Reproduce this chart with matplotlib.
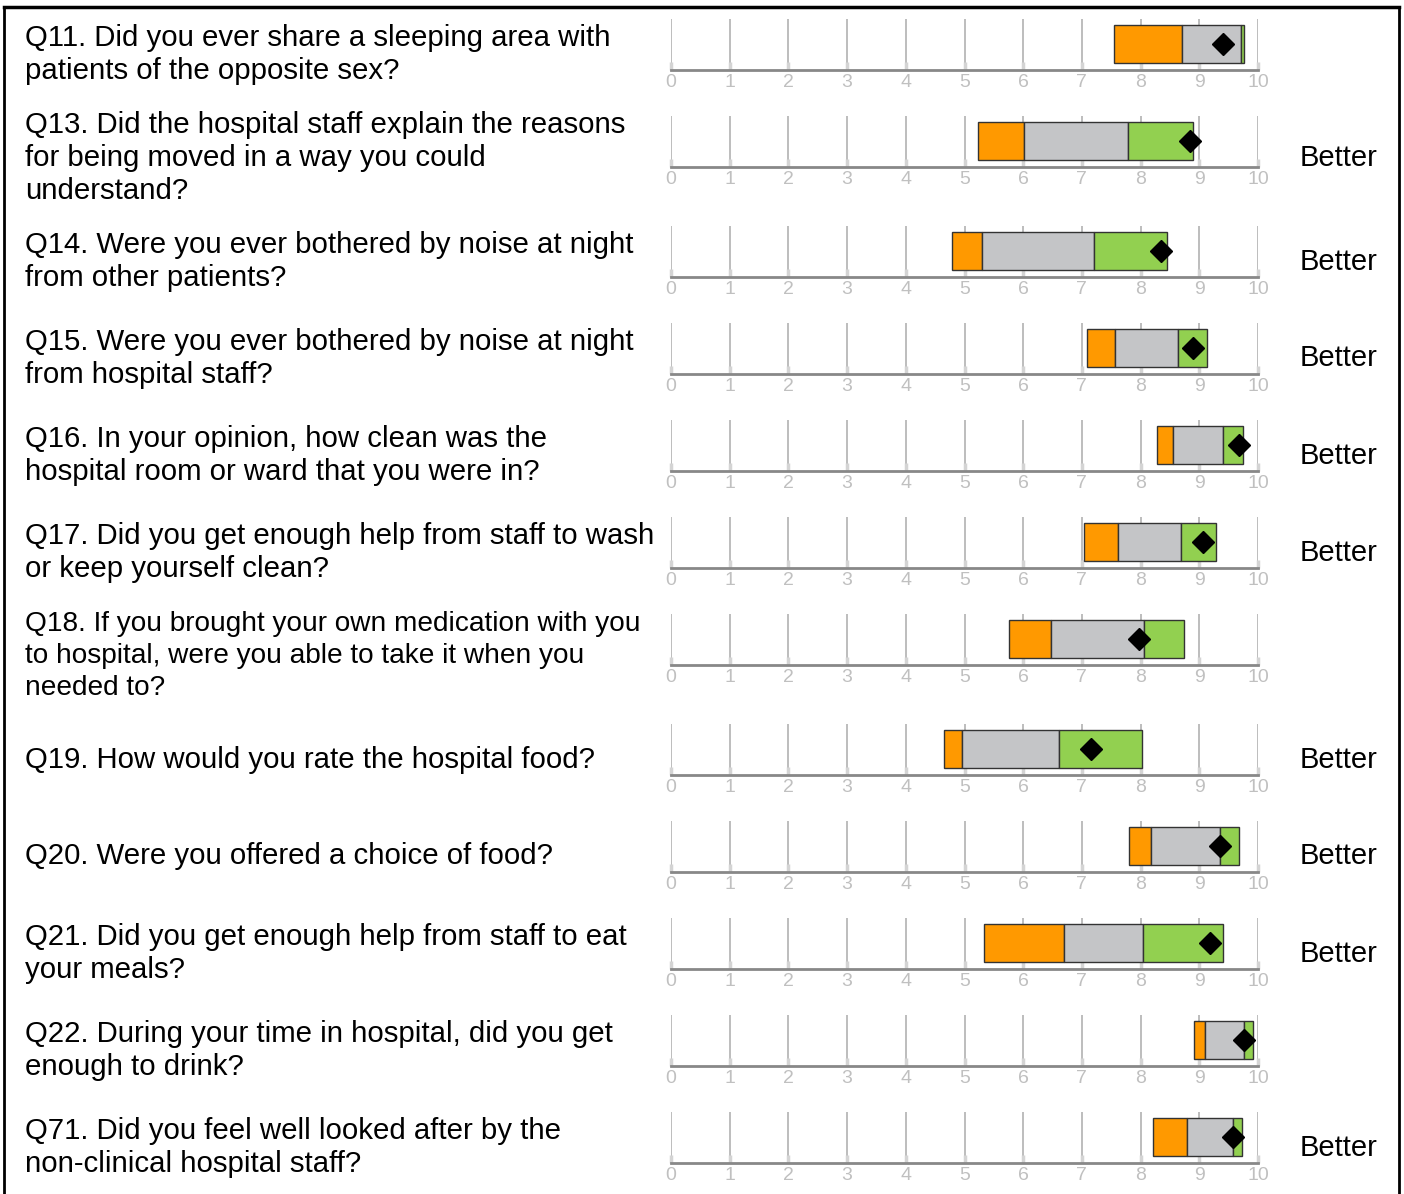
import matplotlib
matplotlib.use("Agg")
import matplotlib.pyplot as plt
from matplotlib.lines import Line2D

plt.rcParams['font.family'] = ['Liberation Sans', 'DejaVu Sans']

#%% data
questions = [
    "Q11. Did you ever share a sleeping area with\npatients of the opposite sex?",
    "Q13. Did the hospital staff explain the reasons\nfor being moved in a way you could\nunderstand?",
    "Q14. Were you ever bothered by noise at night\nfrom other patients?",
    "Q15. Were you ever bothered by noise at night\nfrom hospital staff?",
    "Q16. In your opinion, how clean was the\nhospital room or ward that you were in?",
    "Q17. Did you get enough help from staff to wash\nor keep yourself clean?",
    "Q18. If you brought your own medication with you\nto hospital, were you able to take it when you\nneeded to?",
    "Q19. How would you rate the hospital food?",
    "Q20. Were you offered a choice of food?",
    "Q21. Did you get enough help from staff to eat\nyour meals?",
    "Q22. During your time in hospital, did you get\nenough to drink?",
    "Q71. Did you feel well looked after by the\nnon-clinical hospital staff?",
]
band_low  = [7.54, 5.23, 4.79, 7.09, 8.28, 7.04, 5.75, 4.65, 7.80, 5.33, 8.91, 8.21]
band_mid1 = [8.70, 6.02, 5.29, 7.57, 8.56, 7.62, 6.48, 4.96, 8.17, 6.70, 9.10, 8.79]
band_mid2 = [9.71, 7.79, 7.20, 8.64, 9.41, 8.68, 8.05, 6.61, 9.35, 8.04, 9.77, 9.57]
band_high = [9.77, 8.90, 8.45, 9.13, 9.74, 9.29, 8.74, 8.02, 9.68, 9.40, 9.91, 9.72]
scores    = [9.41, 8.85, 8.34, 8.90, 9.68, 9.06, 7.97, 7.16, 9.36, 9.19, 9.76, 9.57]
verdicts  = ["", "Better", "Better", "Better", "Better", "Better", "",
             "Better", "Better", "Better", "", "Better"]
ticks = list(range(0, 11))

ORANGE = '#ff9900'
GREY = '#c4c5c7'
GREEN = '#92d050'

W, H = 1404, 1194
fig = plt.figure(figsize=(W/100, H/100), dpi=100)

def fy(px):
    return 1 - px/H

# frame
fig.add_artist(Line2D([4/W, 1399/W], [fy(7), fy(7)], color='black', lw=2.5))
fig.add_artist(Line2D([4/W, 4/W], [fy(7), 0], color='black', lw=2))
fig.add_artist(Line2D([1399/W, 1399/W], [fy(7), 0], color='black', lw=2))

AX_L, AX_R = 671, 1258
top = 6
for i, q in enumerate(questions):
    nlines = q.count("\n") + 1
    h = 110 if nlines == 3 else 97
    mid = top + h/2

    # the long Q18 line is set a little tighter in the original
    fs = 20.2 if len(q.split("\n")[0]) > 47 else 21.2
    fig.text(25/W, fy(mid), q, fontsize=fs, ha='left', va='center',
             linespacing=1.24 * 21.2 / fs, color='black')
    if verdicts[i]:
        fig.text(1300/W, fy(mid), verdicts[i], fontsize=21, ha='left',
                 va='center', color='black')

    ax = fig.add_axes([AX_L/W, fy(top + 64), (AX_R - AX_L)/W, 51/H])
    ax.set_xlim(0, 10)
    ax.set_ylim(0, 1)
    ax.barh(0.505, band_mid1[i] - band_low[i], left=band_low[i], height=0.75,
            color=ORANGE, edgecolor='#333333', lw=1, zorder=3)
    ax.barh(0.505, band_mid2[i] - band_mid1[i], left=band_mid1[i], height=0.75,
            color=GREY, edgecolor='#333333', lw=1, zorder=3)
    ax.barh(0.505, band_high[i] - band_mid2[i], left=band_mid2[i], height=0.75,
            color=GREEN, edgecolor='#333333', lw=1, zorder=3)
    ax.plot(scores[i], 0.505, 'D', color='black', ms=11, zorder=4, clip_on=False)

    ax.set_xticks(ticks)
    ax.set_yticks([])
    ax.grid(axis='x', color='#b8b8b8', lw=1.3, zorder=0)
    for s in ['top', 'right', 'left']:
        ax.spines[s].set_visible(False)
    ax.spines['bottom'].set_color('#888888')
    ax.spines['bottom'].set_linewidth(2)
    ax.tick_params(axis='x', direction='in', length=6, width=2.5,
                   color='#d4d4d4', labelsize=14, labelcolor='#c0c0c0', pad=3)
    ax.set_axisbelow(True)

    top += h

fig.savefig('out.png', dpi=100)
